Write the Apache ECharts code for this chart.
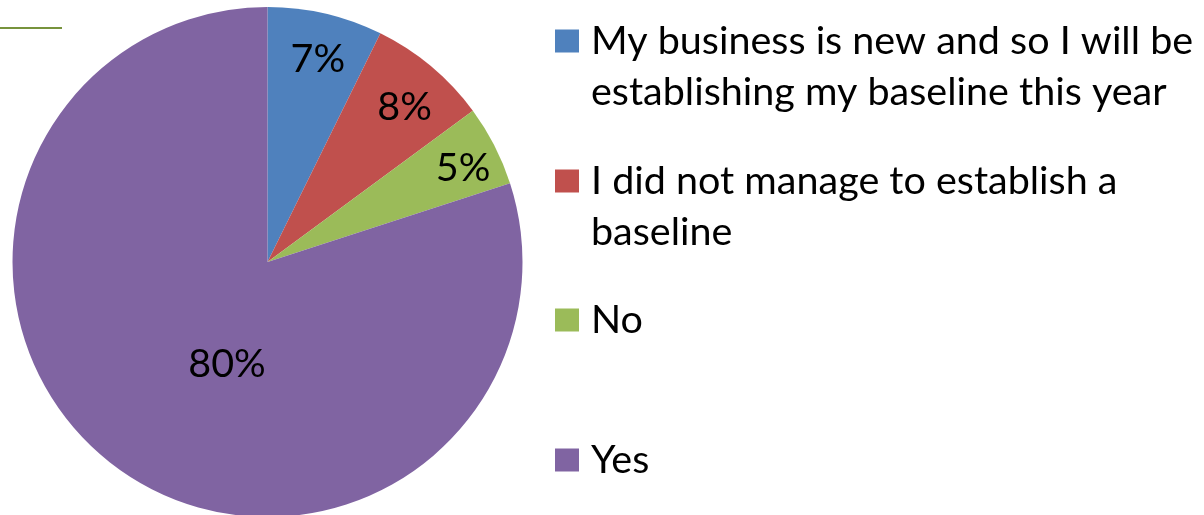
<!DOCTYPE html>
<html>
<head>
<meta charset="utf-8">
<script src="https://cdn.jsdelivr.net/npm/echarts@6/dist/echarts.min.js"></script>
<style>
  html, body { margin: 0; padding: 0; background: #fff; }
  #chart { width: 1204px; height: 515px; }
</style>
</head>
<body>
<div id="chart"></div>
<script>
// ---- data ----
const categories = [
  'My business is new and so I will be establishing my baseline this year',
  'I did not manage to establish a baseline',
  'No',
  'Yes'
];
const legendLabels = [
  'My business is new and so I will be\nestablishing my baseline this year',
  'I did not manage to establish a\nbaseline',
  'No',
  'Yes'
];
const values = [7.3, 7.6, 5.1, 80.0];
const colors = ['#4F81BD', '#C0504D', '#9BBB59', '#8064A2'];

// ---- layout / style ----
const FONT = 'Lato';
const FS = 39.5;
const LH = 51;
const CENTER = [267.5, 262];
const RADIUS = 255;
// label placement (Excel best-fit imitation): radial fraction and angle shift (deg)
const labelFrac = [0.82, 0.81, 0.85, 0.43];
const labelShift = [0.8, 1.6, 1.6, -14.3];
const legendIconCenters = [41, 181, 320, 460];

const total = values.reduce((a, b) => a + b, 0);
const midAngles = [];
{
  let acc = 0;
  values.forEach(v => { midAngles.push((acc + v / 2) / total * 360); acc += v; });
}

// multi-line legend entries: pad with leading empty lines so the first line sits beside the icon
const legends = categories.map((name, i) => {
  const lines = legendLabels[i].split('\n');
  const n = lines.length;
  const text = '\n'.repeat(n - 1) + legendLabels[i];
  const boxH = LH * (2 * n - 1);
  return {
    orient: 'vertical',
    left: 555,
    top: legendIconCenters[i] - boxH / 2,
    padding: 0,
    itemWidth: 24,
    itemHeight: 23,
    itemGap: 0,
    icon: 'rect',
    selectedMode: false,
    data: [name],
    formatter: () => text,
    textStyle: { fontFamily: FONT, fontSize: FS, lineHeight: LH, color: '#000', padding: [0, 0, 0, 7] },
    itemStyle: { borderWidth: 0 }
  };
});

const chart = echarts.init(document.getElementById('chart'), null, { renderer: 'canvas' });
chart.setOption({
  animation: false,
  color: colors,
  legend: legends,
  graphic: [{
    type: 'line',
    shape: { x1: 0, y1: 28, x2: 62, y2: 28 },
    style: { stroke: '#77933C', lineWidth: 2 }
  }],
  series: [{
    type: 'pie',
    center: CENTER,
    radius: RADIUS,
    startAngle: 90,
    clockwise: true,
    avoidLabelOverlap: false,
    data: categories.map((n, i) => ({ name: n, value: values[i] })),
    itemStyle: { borderWidth: 0 },
    label: {
      show: true,
      position: 'inside',
      formatter: p => Math.round(p.percent) + '%',
      fontFamily: FONT,
      fontSize: FS,
      color: '#000'
    },
    labelLine: { show: false },
    labelLayout: function (p) {
      const i = p.dataIndex;
      const a = (midAngles[i] + labelShift[i]) * Math.PI / 180;
      const r = RADIUS * labelFrac[i];
      return {
        x: CENTER[0] + r * Math.sin(a),
        y: CENTER[1] - r * Math.cos(a),
        align: 'center',
        verticalAlign: 'middle'
      };
    },
    emphasis: { disabled: true }
  }]
});
</script>
</body>
</html>
